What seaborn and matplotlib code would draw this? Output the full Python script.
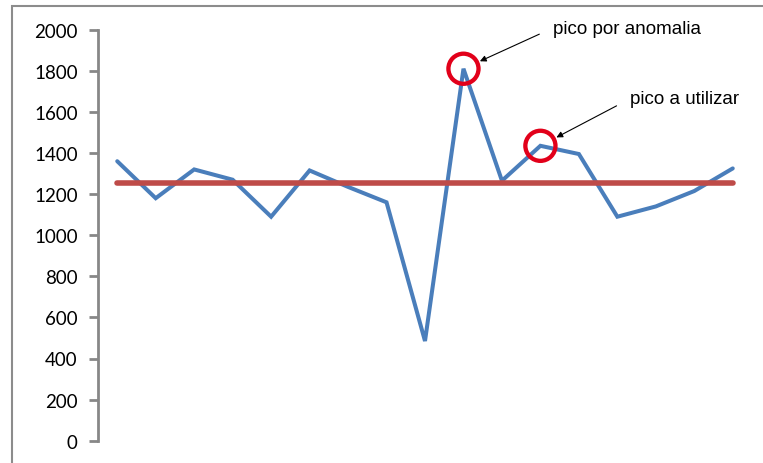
import matplotlib
matplotlib.use("Agg")
import matplotlib.pyplot as plt
from matplotlib.patches import Rectangle
import seaborn as sns
import pandas as pd

# Serie mensual y nivel de referencia
periodos = list(range(17))
valores = [1360, 1180, 1320, 1270, 1090, 1315, 1235, 1160, 485,
           1810, 1265, 1435, 1395, 1090, 1140, 1215, 1325]
nivel = 1255
y_ticks = [0, 200, 400, 600, 800, 1000, 1200, 1400, 1600, 1800, 2000]

# Picos señalados: (índice, texto)
picos = [(9, "pico por anomalia"), (11, "pico a utilizar")]
pos_textos = [(11.32, 2008), (13.32, 1663)]

sns.set_theme(style="white")
plt.rcParams["font.family"] = ["Lato", "DejaVu Sans"]

df = pd.DataFrame({"periodo": periodos, "valor": valores,
                   "nivel": [nivel] * len(periodos)})

fig = plt.figure(figsize=(7.63, 4.64), dpi=100)
ax = fig.add_axes([98 / 763, 22.3 / 464, 654 / 763, 411 / 464])

sns.lineplot(data=df, x="periodo", y="valor", ax=ax, color="#4A7EBB",
             linewidth=2.9, solid_joinstyle="miter", zorder=3)
sns.lineplot(data=df, x="periodo", y="nivel", ax=ax, color="#BE4B48",
             linewidth=4.0, solid_capstyle="round", zorder=4)

# Círculos y flechas sobre los picos
for (i, texto), (tx, ty) in zip(picos, pos_textos):
    ax.scatter([i], [valores[i]], s=470, facecolors="none",
               edgecolors="#E2001A", linewidths=3.1, zorder=5, clip_on=False)
    ax.annotate(texto, xy=(i, valores[i]), xytext=(tx, ty),
                textcoords="data", ha="left", va="center",
                fontsize=13.5, family=["Liberation Sans", "DejaVu Sans"],
                color="black", annotation_clip=False,
                arrowprops=dict(arrowstyle="-|>", color="black", lw=0.8,
                                mutation_scale=9, shrinkA=8, shrinkB=13,
                                relpos=(0, 0.5)))

ax.set_xlim(-0.5, 16.5)
ax.set_ylim(0, 2000)
ax.set_yticks(y_ticks)
ax.set_yticklabels([str(t) for t in y_ticks], fontsize=13.5)
ax.set_xticks([])
ax.set_xlabel("")
ax.set_ylabel("")
for s in ["top", "right", "bottom"]:
    ax.spines[s].set_visible(False)
ax.spines["left"].set_color("#878787")
ax.spines["left"].set_linewidth(2)
ax.tick_params(axis="y", which="major", left=True, length=6.5, width=2,
               color="#878787", pad=8, labelcolor="black")
ax.set_facecolor("none")

# Marco exterior del gráfico
fig.patches.append(Rectangle((12 / 763, -0.1), 1.2, (457 / 464) + 0.1,
                             transform=fig.transFigure, fill=False,
                             edgecolor="#8C8C8C", linewidth=1.5,
                             zorder=0))

fig.savefig("out.png", dpi=100)
